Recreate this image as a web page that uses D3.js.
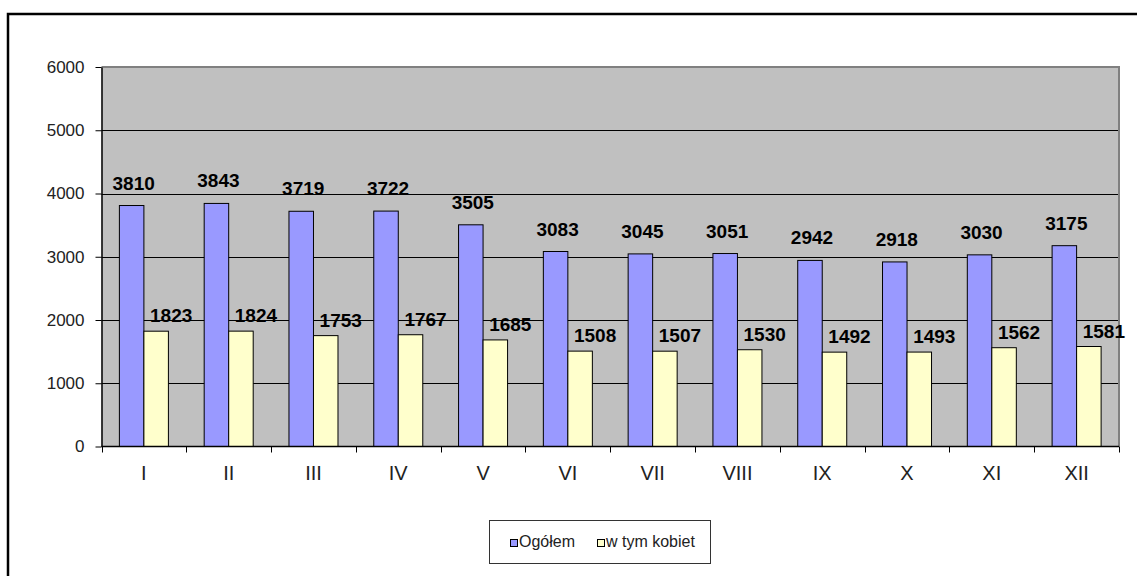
<!DOCTYPE html>
<html>
<head>
<meta charset="utf-8">
<script src="https://cdn.jsdelivr.net/npm/d3@7"></script>
<style>
  body { margin: 0; background: #fff; }
  text { font-family: Arial, "Liberation Sans", sans-serif; }
</style>
</head>
<body>
<div id="chart"></div>
<script>
// Data
const months = ["I", "II", "III", "IV", "V", "VI", "VII", "VIII", "IX", "X", "XI", "XII"];
const seriesNames = ["Ogółem", "w tym kobiet"];
const ogolem = [3810, 3843, 3719, 3722, 3505, 3083, 3045, 3051, 2942, 2918, 3030, 3175];
const kobiety = [1823, 1824, 1753, 1767, 1685, 1508, 1507, 1530, 1492, 1493, 1562, 1581];
const yTicks = [0, 1000, 2000, 3000, 4000, 5000, 6000];

// Layout
const width = 1137;
const height = 576;
const plot = { left: 101.5, right: 1119, top: 67, bottom: 446.5 };

const colors = ["#9999ff", "#ffffcc"];
// label offsets per series (Excel-like placement)
const labelDx = [2, 15];
const labelGap = [16, 9];

const svg = d3.select("#chart")
  .append("svg")
  .attr("width", width)
  .attr("height", height);

svg.append("rect")
  .attr("width", width)
  .attr("height", height)
  .attr("fill", "#fff");

// Outer frame
svg.append("rect")
  .attr("x", 8)
  .attr("y", 14)
  .attr("width", width + 20)
  .attr("height", height + 20)
  .attr("fill", "none")
  .attr("stroke", "#000")
  .attr("stroke-width", 2.5);

// Scales
const x0 = d3.scaleBand()
  .domain(months)
  .range([plot.left, plot.right])
  .padding(0);

const x1 = d3.scaleBand()
  .domain([0, 1])
  .range([0, x0.bandwidth()])
  .paddingInner(0)
  .paddingOuter(0.73);

const y = d3.scaleLinear()
  .domain([0, 6000])
  .range([plot.bottom, plot.top]);

// Plot background
svg.append("rect")
  .attr("x", plot.left)
  .attr("y", plot.top)
  .attr("width", plot.right - plot.left)
  .attr("height", plot.bottom - plot.top)
  .attr("fill", "#c0c0c0");

// Gridlines
svg.append("g")
  .selectAll("line")
  .data(yTicks.filter(d => d > 0 && d < 6000))
  .join("line")
  .attr("x1", plot.left)
  .attr("x2", plot.right)
  .attr("y1", d => Math.round(y(d)) + 0.5)
  .attr("y2", d => Math.round(y(d)) + 0.5)
  .attr("stroke", "#000")
  .attr("stroke-width", 1);

// Plot border (top, right)
svg.append("path")
  .attr("d", `M${plot.left},${plot.top}H${plot.right}V${plot.bottom}`)
  .attr("fill", "none")
  .attr("stroke", "#808080")
  .attr("stroke-width", 2);

// Bars
const values = [ogolem, kobiety];
const barData = [];
months.forEach((m, i) => {
  values.forEach((arr, s) => barData.push({ month: m, series: s, value: arr[i] }));
});

svg.append("g")
  .selectAll("rect")
  .data(barData)
  .join("rect")
  .attr("x", d => x0(d.month) + x1(d.series))
  .attr("y", d => y(d.value))
  .attr("width", x1.bandwidth())
  .attr("height", d => y(0) - y(d.value))
  .attr("fill", d => colors[d.series])
  .attr("stroke", "#000")
  .attr("stroke-width", 1);

// Data labels
svg.append("g")
  .selectAll("text")
  .data(barData)
  .join("text")
  .attr("x", d => x0(d.month) + x1(d.series) + x1.bandwidth() / 2 + labelDx[d.series])
  .attr("y", d => y(d.value) - labelGap[d.series])
  .attr("text-anchor", "middle")
  .style("font-size", "19px")
  .style("font-weight", "bold")
  .style("fill", "#000")
  .text(d => d.value);

// Y axis
const yAxis = svg.append("g")
  .attr("transform", `translate(${plot.left},0)`)
  .call(d3.axisLeft(y).tickValues(yTicks).tickSize(6).tickSizeOuter(0).tickPadding(11).tickFormat(d3.format("d")));
yAxis.select(".domain").attr("stroke", "#000").attr("stroke-width", 1.5);
yAxis.selectAll("line").attr("stroke", "#000");
yAxis.selectAll("text")
  .style("font-size", "17px")
  .style("fill", "#222");

// X axis: ticks at category boundaries
const xAxisG = svg.append("g");
xAxisG.append("line")
  .attr("x1", plot.left)
  .attr("x2", plot.right)
  .attr("y1", plot.bottom)
  .attr("y2", plot.bottom)
  .attr("stroke", "#000")
  .attr("stroke-width", 1.5);

xAxisG.selectAll(".tick")
  .data(months.concat(["end"]))
  .join("line")
  .attr("class", "tick")
  .attr("x1", (d, i) => Math.round(plot.left + i * x0.step()) + 0.5)
  .attr("x2", (d, i) => Math.round(plot.left + i * x0.step()) + 0.5)
  .attr("y1", plot.bottom)
  .attr("y2", plot.bottom + 6)
  .attr("stroke", "#000");

xAxisG.selectAll(".lbl")
  .data(months)
  .join("text")
  .attr("class", "lbl")
  .attr("x", d => x0(d) + x0.bandwidth() / 2)
  .attr("y", 480)
  .attr("text-anchor", "middle")
  .style("font-size", "20px")
  .style("fill", "#222")
  .text(d => d);

// Legend
const legend = svg.append("g");
legend.append("rect")
  .attr("x", 489.5)
  .attr("y", 520.5)
  .attr("width", 221)
  .attr("height", 43)
  .attr("fill", "#fff")
  .attr("stroke", "#333")
  .attr("stroke-width", 1);

const legendX = [510, 597];
seriesNames.forEach((name, i) => {
  legend.append("rect")
    .attr("x", legendX[i] + 0.5)
    .attr("y", 539.5)
    .attr("width", 7)
    .attr("height", 7)
    .attr("fill", colors[i])
    .attr("stroke", "#000");
  legend.append("text")
    .attr("x", legendX[i] + 9)
    .attr("y", 547)
    .style("font-size", "16px")
    .style("fill", "#222")
    .text(name);
});
</script>
</body>
</html>
